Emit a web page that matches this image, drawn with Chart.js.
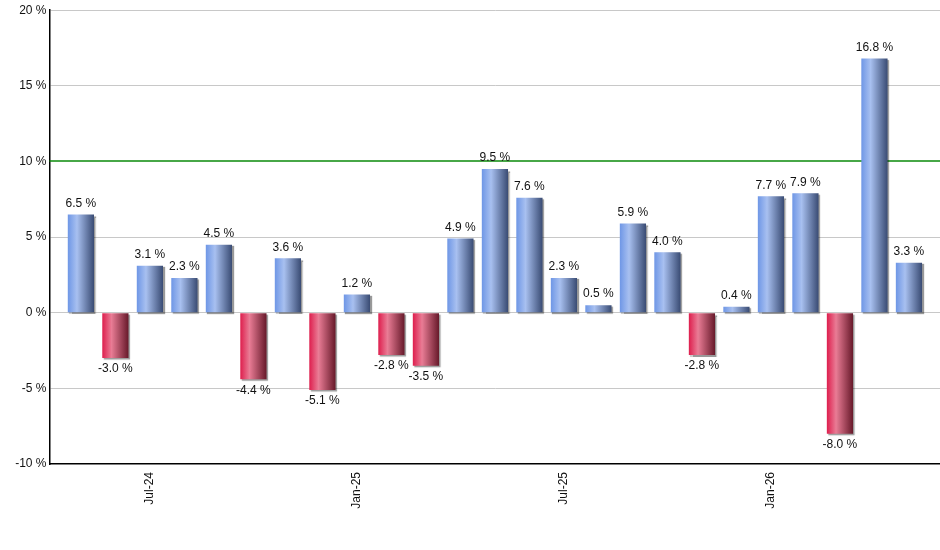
<!DOCTYPE html>
<html>
<head>
<meta charset="utf-8">
<script src="https://cdn.jsdelivr.net/npm/chart.js@4"></script>
<style>
  html, body { margin: 0; padding: 0; background: #fff; }
  #wrap { width: 940px; height: 550px; position: relative; }
</style>
</head>
<body>
<div id="wrap"><canvas id="chart"></canvas></div>
<script>
'use strict';

// ── Daten ──
const months = ['May-24','Jun-24','Jul-24','Aug-24','Sep-24','Oct-24','Nov-24','Dec-24',
                'Jan-25','Feb-25','Mar-25','Apr-25','May-25','Jun-25','Jul-25','Aug-25',
                'Sep-25','Oct-25','Nov-25','Dec-25','Jan-26','Feb-26','Mar-26','Apr-26','May-26'];
const returns = [6.5, -3.0, 3.1, 2.3, 4.5, -4.4, 3.6, -5.1, 1.2, -2.8, -3.5, 4.9, 9.5,
                 7.6, 2.3, 0.5, 5.9, 4.0, -2.8, 0.4, 7.7, 7.9, -8.0, 16.8, 3.3];
const tickMonths = ['Jul-24', 'Jan-25', 'Jul-25', 'Jan-26'];
const yTicks = [-10, -5, 0, 5, 10, 15, 20];
const targetLine = 10;

const FONT = { family: 'Liberation Sans, Arial, sans-serif', size: 12 };

// ── Balken-Verlauf ──
function barFill(c) {
  const chart = c.chart;
  const xs = chart.scales.x;
  if (!xs || c.dataIndex === undefined) return '#7aa0ec';
  const x = xs.getPixelForValue(c.dataIndex);
  if (!Number.isFinite(x)) return '#7aa0ec';
  const half = 13;
  const g = chart.ctx.createLinearGradient(x - half, 0, x + half, 0);
  if (returns[c.dataIndex] >= 0) {
    g.addColorStop(0, '#6f97e6');
    g.addColorStop(0.35, '#a8c0f0');
    g.addColorStop(1, '#3a4c74');
  } else {
    g.addColorStop(0, '#de1f4e');
    g.addColorStop(0.35, '#e97c95');
    g.addColorStop(1, '#681a2b');
  }
  return g;
}

// ── Plugins ──
const targetPlugin = {
  id: 'target',
  beforeDatasetsDraw(chart) {
    const { ctx, chartArea: a, scales: { y } } = chart;
    const py = Math.round(y.getPixelForValue(targetLine));
    ctx.save();
    ctx.strokeStyle = '#0a8a0a';
    ctx.lineWidth = 1.6;
    ctx.beginPath();
    ctx.moveTo(a.left, py);
    ctx.lineTo(a.right, py);
    ctx.stroke();
    ctx.restore();
  }
};

const shadowPlugin = {
  id: 'barShadow',
  beforeDatasetDraw(chart) {
    const ctx = chart.ctx;
    ctx.save();
    ctx.shadowColor = 'rgba(0,0,0,0.4)';
    ctx.shadowOffsetX = 1.5;
    ctx.shadowOffsetY = 1.5;
    ctx.shadowBlur = 1;
  },
  afterDatasetDraw(chart) {
    chart.ctx.restore();
  }
};

const labelPlugin = {
  id: 'valueLabels',
  afterDatasetsDraw(chart) {
    const ctx = chart.ctx;
    const meta = chart.getDatasetMeta(0);
    ctx.save();
    ctx.font = `${FONT.size}px ${FONT.family}`;
    ctx.fillStyle = '#111';
    ctx.textAlign = 'center';
    meta.data.forEach((bar, i) => {
      const v = returns[i];
      const txt = v.toFixed(1) + ' %';
      if (v >= 0) {
        ctx.textBaseline = 'bottom';
        ctx.fillText(txt, bar.x, bar.y - 5);
      } else {
        ctx.textBaseline = 'top';
        ctx.fillText(txt, bar.x, bar.y + 5);
      }
    });
    ctx.restore();
  }
};

new Chart(document.getElementById('chart'), {
  type: 'bar',
  data: {
    datasets: [{
      data: returns.map((v, i) => ({ x: i, y: v })),
      backgroundColor: barFill,
      borderWidth: 0,
      barPercentage: 0.76,
      categoryPercentage: 1,
    }]
  },
  options: {
    responsive: true,
    maintainAspectRatio: false,
    animation: false,
    events: [],
    layout: { padding: { top: 9, right: 0, left: 0, bottom: 0 } },
    plugins: { legend: { display: false }, tooltip: { enabled: false } },
    scales: {
      x: {
        type: 'linear',
        offset: false,
        min: -0.91,
        max: 24.9,
        afterBuildTicks: s => {
          s.ticks = tickMonths.map(m => ({ value: months.indexOf(m) }));
        },
        afterFit: s => { s.height = 86; },
        ticks: {
          color: '#111',
          font: FONT,
          autoSkip: false,
          minRotation: 90,
          maxRotation: 90,
          padding: 2,
          callback: v => months[v],
        },
        grid: { display: false, drawTicks: true, tickLength: 6, tickColor: '#000' },
        border: { color: '#000', width: 1.5 },
      },
      y: {
        min: -10,
        max: 20,
        afterBuildTicks: s => { s.ticks = yTicks.map(v => ({ value: v })); },
        afterFit: s => { s.width = 49.5; },
        ticks: {
          color: '#111',
          font: FONT,
          padding: 3,
          callback: v => v + ' %',
        },
        grid: {
          color: c => (c.tick && (c.tick.value === -10 || c.tick.value === targetLine))
            ? 'rgba(0,0,0,0)' : '#c8c8c8',
          lineWidth: 1,
          drawTicks: false,
        },
        border: { color: '#000', width: 1.5 },
      },
    },
  },
  plugins: [targetPlugin, shadowPlugin, labelPlugin],
});
</script>
</body>
</html>
